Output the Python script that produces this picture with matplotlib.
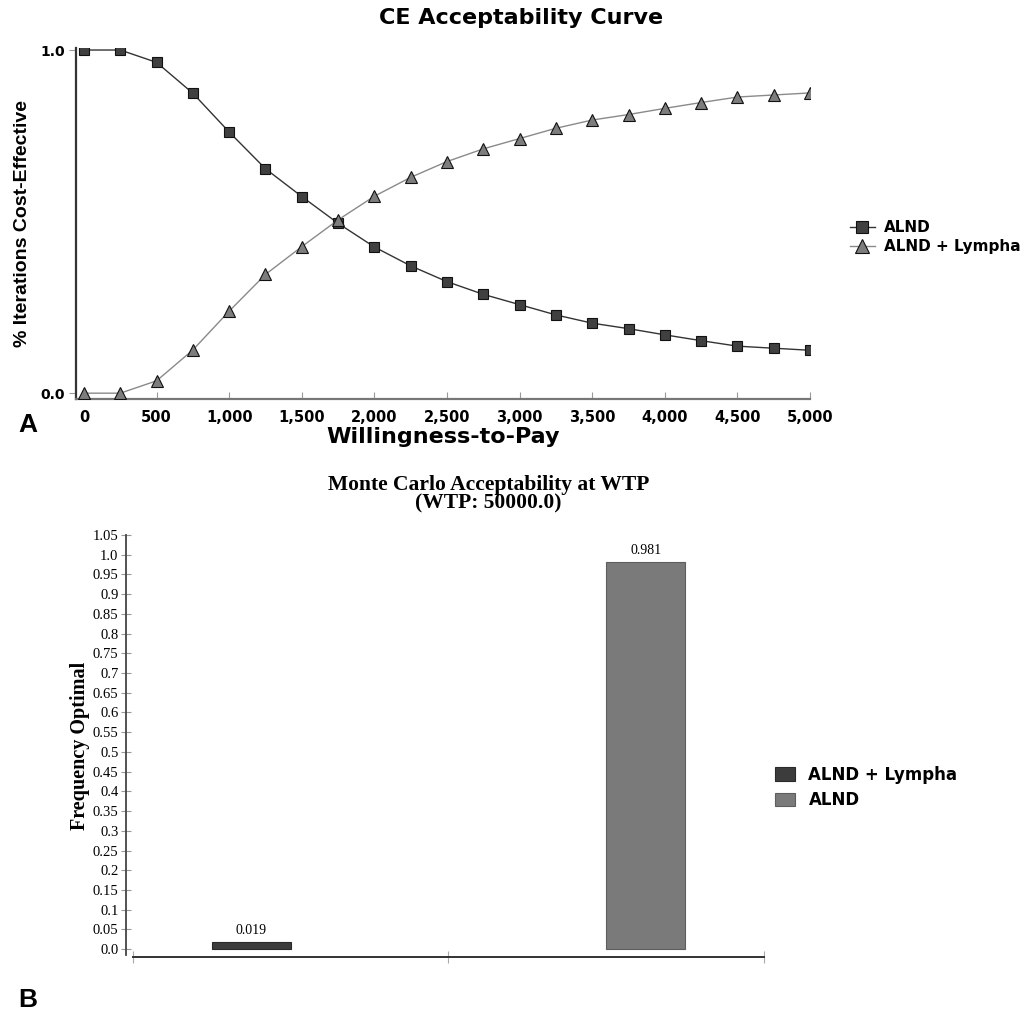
from __future__ import annotations

import matplotlib

matplotlib.use("Agg")
import matplotlib.pyplot as plt
import numpy as np


# Panel A: CE acceptability curve
WTP = [0, 250, 500, 750, 1000, 1250, 1500, 1750, 2000, 2250, 2500,
       2750, 3000, 3250, 3500, 3750, 4000, 4250, 4500, 4750, 5000]
ALND_CURVE = [1.0, 1.0, 0.964, 0.874, 0.761, 0.654, 0.573, 0.495, 0.426, 0.371, 0.325,
              0.288, 0.258, 0.228, 0.204, 0.188, 0.170, 0.153, 0.137, 0.131, 0.125]
LYMPHA_CURVE = [0.0, 0.0, 0.036, 0.126, 0.239, 0.346, 0.427, 0.505, 0.574, 0.629, 0.675,
                0.712, 0.742, 0.772, 0.796, 0.812, 0.830, 0.847, 0.863, 0.869, 0.875]
CURVE_LABELS = ["ALND", "ALND + Lympha"]
X_TICKS = [0, 500, 1000, 1500, 2000, 2500, 3000, 3500, 4000, 4500, 5000]

# Panel B: Monte Carlo acceptability at WTP 50000
BAR_LABELS = ["ALND + Lympha", "ALND"]
BAR_VALUES = [0.019, 0.981]
BAR_Y_TICKS = [i * 0.05 for i in range(22)]

SANS = ["DejaVu Sans"]
NARROW = ["Liberation Sans Narrow", "Liberation Sans", "DejaVu Sans"]
SERIF = ["Liberation Serif", "DejaVu Serif"]


def fmt_tick(v: float) -> str:
    s = f"{v:.2f}"
    if s.endswith("0"):
        s = s[:-1]
    return s


def draw_curve(fig) -> None:
    ax = fig.add_axes([0.0739, 0.6065, 0.7141, 0.3462])
    ax.plot(WTP, ALND_CURVE, color="#333333", lw=1.0, marker="s", ms=7.5,
            mfc="#404040", mec="#111111", mew=0.8, label=CURVE_LABELS[0], zorder=3)
    ax.plot(WTP, LYMPHA_CURVE, color="#8a8a8a", lw=1.0, marker="^", ms=8.5,
            mfc="#7d7d7d", mec="#111111", mew=0.8, label=CURVE_LABELS[1], zorder=3)

    ax.set_xlim(-55, 5000)
    ax.set_ylim(-0.017, 1.006)
    for side in ("top", "right"):
        ax.spines[side].set_visible(False)
    ax.spines["left"].set_color("#333333")
    ax.spines["left"].set_linewidth(1.6)
    ax.spines["bottom"].set_color("#777777")
    ax.spines["bottom"].set_linewidth(1.6)

    ax.set_xticks(X_TICKS)
    ax.set_xticklabels([f"{t:,}" for t in X_TICKS], fontsize=10.5, fontweight="bold",
                       family=SANS)
    ax.set_yticks([0.0, 1.0])
    ax.set_yticklabels(["0.0", "1.0"], fontsize=10, fontweight="bold", family=SANS)
    ax.tick_params(axis="x", direction="in", length=5, color="#999999", pad=8)
    ax.tick_params(axis="y", direction="out", length=5, color="#999999", pad=3)

    ax.set_xlabel("Willingness-to-Pay", fontsize=16, fontweight="bold",
                  family=SANS, labelpad=1)
    ax.set_ylabel("% Iterations Cost-Effective", fontsize=14, fontweight="bold",
                  family=NARROW, labelpad=7)
    fig.text(0.507, 0.982, "CE Acceptability Curve", fontsize=16,
             fontweight="bold", family=SANS, ha="center", va="center")

    ax.legend(loc="center left", bbox_to_anchor=(0.827, 0.766),
              bbox_transform=fig.transFigure, frameon=False, borderpad=0,
              borderaxespad=0, handlelength=1.6, handletextpad=0.6,
              labelspacing=0.25, markerscale=1.15,
              prop={"family": SANS, "weight": "bold", "size": 11})

    fig.text(0.018, 0.581, "A", fontsize=19, fontweight="bold",
             family=["Liberation Sans", "DejaVu Sans"], ha="left", va="center")


def draw_bars(fig) -> None:
    ax = fig.add_axes([0.1226, 0.0562, 0.6206, 0.4162])
    n = len(BAR_VALUES)
    width = 0.25
    offsets = (np.arange(n) - (n - 1) / 2) * width
    positions = np.arange(n) + offsets
    colors = ["#3c3c3c", "#7a7a7a"]
    edges = ["#2a2a2a", "#5e5e5e"]
    for pos, val, lab, c, e in zip(positions, BAR_VALUES, BAR_LABELS, colors, edges):
        ax.bar(pos, val, width=width, color=c, edgecolor=e, linewidth=0.8,
               label=lab, zorder=2)
        ax.text(pos, val + 0.012, f"{val}", ha="center", va="bottom",
                fontsize=10, family=SERIF)

    ax.set_xlim(-0.522, 1.5)
    ax.set_ylim(-0.02, 1.05)
    for side in ("top", "right"):
        ax.spines[side].set_visible(False)
    ax.spines["left"].set_color("#444444")
    ax.spines["left"].set_linewidth(1.3)
    ax.spines["left"].set_bounds(-0.015, 1.05)
    ax.spines["bottom"].set_color("#333333")
    ax.spines["bottom"].set_linewidth(1.4)
    ax.spines["bottom"].set_bounds(-0.5, 1.5)

    ax.set_xticks([-0.5, 0.5, 1.5])
    ax.set_xticklabels([])
    ax.tick_params(axis="x", direction="inout", length=8, color="#aaaaaa")
    ax.set_yticks(BAR_Y_TICKS)
    ax.set_yticklabels([fmt_tick(t) for t in BAR_Y_TICKS], fontsize=10.5,
                       family=SERIF)
    ax.tick_params(axis="y", direction="inout", length=7, color="#999999", pad=2)

    ax.set_ylabel("Frequency Optimal", fontsize=14.5, fontweight="bold",
                  family=SERIF, labelpad=2)
    fig.text(0.475, 0.5125, "Monte Carlo Acceptability at WTP\n(WTP: 50000.0)",
             fontsize=15.5, fontweight="bold", family=SERIF, ha="center",
             va="center", linespacing=0.95)

    ax.legend(loc="center left", bbox_to_anchor=(0.754, 0.2234),
              bbox_transform=fig.transFigure, frameon=False, borderpad=0,
              borderaxespad=0, handlelength=1.2, handleheight=0.85,
              handletextpad=0.8, labelspacing=0.45,
              prop={"family": SANS, "weight": "bold", "size": 12})

    fig.text(0.018, 0.014, "B", fontsize=19, fontweight="bold",
             family=["Liberation Sans", "DejaVu Sans"], ha="left", va="center")


def main() -> None:
    fig = plt.figure(figsize=(10.28, 10.14), dpi=100)
    draw_curve(fig)
    draw_bars(fig)
    fig.savefig("out.png", dpi=100, facecolor="white")
    plt.close(fig)


if __name__ == "__main__":
    main()
